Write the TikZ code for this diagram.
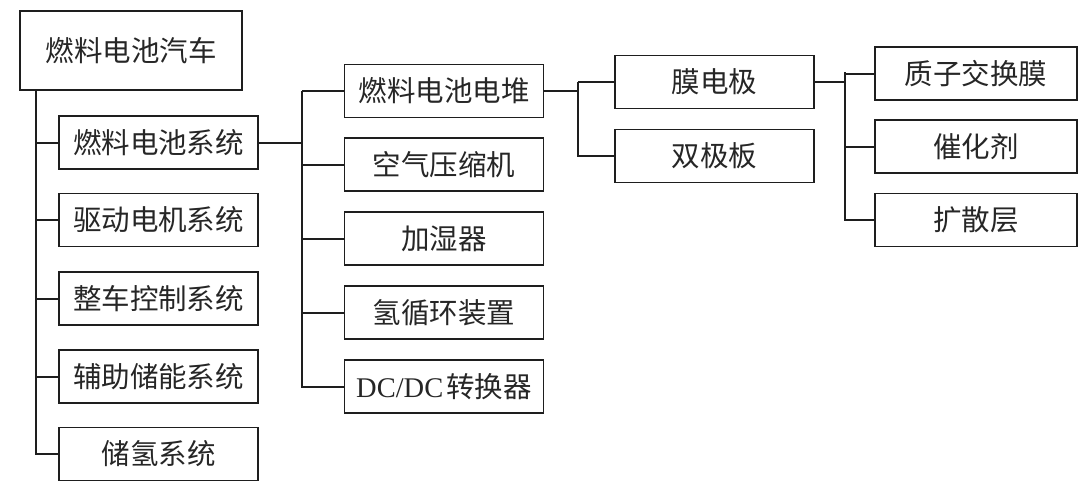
\documentclass[tikz,border=0pt]{standalone}
\usepackage{fontspec}
\setmainfont{Liberation Serif}
\newfontfamily\cjk{Noto Sans CJK SC}
\usetikzlibrary{positioning,calc}
\definecolor{LineGray}{RGB}{30,30,30}

\begin{document}
\begin{tikzpicture}[x=1pt,y=-1pt,
  b/.style={rectangle,draw=LineGray,line width=1.8pt,inner sep=0pt,outer sep=0pt,minimum width=199pt,minimum height=53pt,font=\cjk\fontsize{28.5}{30}\selectfont,text=black!85,align=center},
  l/.style={draw=LineGray,line width=2pt}
]
  \useasboundingbox (0,0) rectangle (1080,493);
  \node[b,minimum width=222pt,minimum height=79pt] (root) at (131,50.5) {燃料电池汽车};
  \node[b] (c1) at (158.5,142.5) {燃料电池系统};
  \node[b] (c2) at (158.5,220) {驱动电机系统};
  \node[b] (c3) at (158.5,298.5) {整车控制系统};
  \node[b] (c4) at (158.5,376.5) {辅助储能系统};
  \node[b] (c5) at (158.5,454) {储氢系统};
  \node[b] (s1) at (444,91) {燃料电池电堆};
  \node[b] (s2) at (444,164.5) {空气压缩机};
  \node[b] (s3) at (444,238.5) {加湿器};
  \node[b] (s4) at (444,312.5) {氢循环装置};
  \node[b] (s5) at (444,386.5) {{\rmfamily DC/DC}\kern3pt 转换器};
  \node[b] (m1) at (714.5,82) {膜电极};
  \node[b] (m2) at (714.5,156) {双极板};
  \node[b,minimum width=202pt] (p1) at (976,73.5) {质子交换膜};
  \node[b,minimum width=202pt] (p2) at (976,146.5) {催化剂};
  \node[b,minimum width=202pt] (p3) at (976,220) {扩散层};
  \coordinate (tA) at (36,90);
  \coordinate (tB) at (302,91);
  \coordinate (tC) at (578,82);
  \coordinate (tD) at (845,72);
  \foreach \i in {1,...,5} \draw[l] (tA) |- (c\i.west);
  \draw[l] (c1.east) -- (c1.east -| tB);
  \foreach \i in {1,...,5} \draw[l] (tB) |- (s\i.west);
  \draw[l] (s1.east) -- (s1.east -| tC);
  \foreach \i in {1,2} \draw[l] (tC) |- (m\i.west);
  \draw[l] (m1.east) -- (m1.east -| tD);
  \foreach \i in {1,2,3} \draw[l] (tD) |- (p\i.west);
\end{tikzpicture}
\end{document}
